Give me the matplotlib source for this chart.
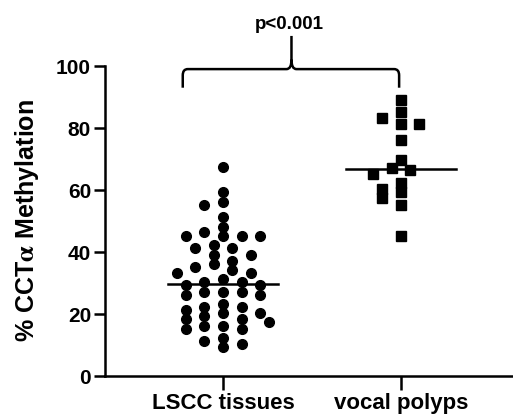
import matplotlib
matplotlib.use("Agg")
import matplotlib.pyplot as plt
import numpy as np
from matplotlib.path import Path
from matplotlib.patches import PathPatch

plt.rcParams["font.family"] = ["Liberation Sans", "DejaVu Sans"]
plt.rcParams["font.weight"] = "bold"
plt.rcParams["mathtext.fontset"] = "stix"

# ---------------------------------------------------------------------------
# Data
# ---------------------------------------------------------------------------
groups = ["LSCC tissues", "vocal polyps"]

lscc = [67.3, 59.3, 56.2, 55.3, 51.2, 48.2, 46.3, 45.1, 45.1, 45.1, 45.1,
        42.3, 41.2, 41.2, 39.1, 39.1, 37.2, 36.1, 35.3, 34.2, 33.2, 33.2,
        31.3, 30.4, 30.2, 29.4, 29.4, 27.2, 27.2, 27.2, 26.2, 26.2, 23.2,
        22.4, 22.4, 21.3, 20.2, 20.2, 19.3, 18.3, 18.3, 17.3, 16.2, 16.2,
        15.3, 15.3, 12.3, 11.3, 10.3, 9.3]
polyps = [89.1, 85.3, 83.1, 81.3, 81.3, 76.2, 69.7, 67.1, 66.5, 65.2,
          62.2, 60.3, 59.2, 57.3, 55.2, 45.3]

y_ticks = [0, 20, 40, 60, 80, 100]
p_text = "p<0.001"

# ---------------------------------------------------------------------------
# Figure
# ---------------------------------------------------------------------------
fig = plt.figure(figsize=(5.13, 4.15), dpi=100)
ax = fig.add_axes([105 / 513, 1 - 376 / 415, 1 - 105 / 513, (376 - 66) / 415])
ax.set_xlim(0.337, 2.63)
ax.set_ylim(0, 100)

# pixel scale, used to lay points out side by side (GraphPad-like columns)
px_x = 178.4       # px per x unit
px_y = 3.1         # px per y unit
gap_x = 18.0       # min horizontal spacing in a row, px
gap_y = 9.0        # min vertical spacing in a column, px
step = 9.3 / px_x  # column spacing in data units


def swarm(vals, centre):
    order = np.argsort(vals, kind="stable")[::-1]
    placed = []
    xs = np.zeros(len(vals))
    for i in order:
        y = vals[i]
        k = 0
        found = None
        while found is None:
            for off in ([0] if k == 0 else [-k, k]):
                x = centre + off * step
                if all((((x - qx) * px_x) / gap_x) ** 2
                       + (((y - qy) * px_y) / gap_y) ** 2 >= 1.0
                       for qx, qy in placed):
                    found = x
                    break
            k += 1
        placed.append((found, y))
        xs[i] = found
    return xs


for pos, vals, mk, ms in [(1, lscc, "o", 7.0), (2, polyps, "s", 7.0)]:
    vals = np.asarray(vals)
    xs = swarm(vals, pos)
    ax.plot(xs, vals, ls="none", marker=mk, ms=ms, color="black", mec="black",
            clip_on=False, zorder=3)
    med = np.median(vals)
    ax.plot([pos - 0.31, pos + 0.31], [med, med], color="black", lw=1.8, zorder=4)

# significance brace
xl, xc, xr = 0.774, 1.385, 1.99
yb, yh, yt = 93.0, 99.0, 109.7
r = 0.028
verts = [(xl, yb), (xl, yh - 2), (xl, yh), (xl + r, yh), (xc - r, yh),
         (xc, yh), (xc, yh + 3), (xc, yt), (xc, yh + 3), (xc, yh), (xc + r, yh),
         (xr - r, yh), (xr, yh), (xr, yh - 2), (xr, yb)]
codes = [Path.MOVETO, Path.LINETO, Path.CURVE3, Path.CURVE3, Path.LINETO,
         Path.CURVE3, Path.CURVE3, Path.LINETO, Path.MOVETO, Path.CURVE3, Path.CURVE3,
         Path.LINETO, Path.CURVE3, Path.CURVE3, Path.LINETO]
ax.add_patch(PathPatch(Path(verts, codes), fill=False, lw=1.8, color="black",
                       clip_on=False, capstyle="butt"))
ax.text(xc - 0.01, 113.5, p_text, ha="center", va="center", fontsize=13.5,
        fontweight="bold")

# axes styling
for s in ["top", "right"]:
    ax.spines[s].set_visible(False)
for s in ["left", "bottom"]:
    ax.spines[s].set_linewidth(1.8)
ax.set_yticks(y_ticks)
ax.set_xticks([1, 2])
ax.set_xticklabels(groups, fontsize=16, fontweight="bold")
ax.tick_params(axis="y", length=8, width=1.8, labelsize=15, pad=2)
ax.tick_params(axis="x", length=10, width=1.8, pad=2)
ax.set_ylabel("% CCT$\\mathrm{\\alpha}$ Methylation", fontsize=18,
              fontweight="bold", labelpad=11)

fig.savefig("out.png", dpi=100)
